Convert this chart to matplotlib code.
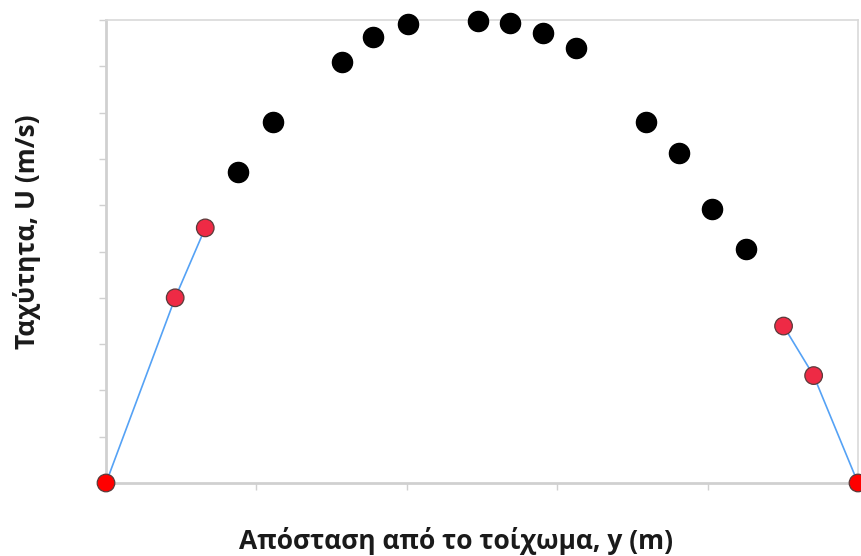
import numpy as np
import matplotlib.pyplot as plt

# wall-region points (red, joined by lines)
y_left = [0.0, 0.092, 0.132]
u_left = [0.0, 0.400, 0.551]
y_right = [0.901, 0.941, 1.0]
u_right = [0.339, 0.232, 0.0]

# core flow points (black)
y_core = [0.175, 0.222, 0.314, 0.355, 0.401, 0.495, 0.537, 0.581, 0.625,
          0.718, 0.762, 0.806, 0.851]
u_core = [0.672, 0.780, 0.909, 0.963, 0.991, 0.998, 0.994, 0.972, 0.940,
          0.780, 0.713, 0.592, 0.505]

fig = plt.figure(figsize=(8.61, 5.56), dpi=100)
ax = fig.add_axes([106 / 861, 73 / 556, 752 / 861, 463 / 556])

line_c = "#55a2f5"
for ys, us in [(y_left, u_left), (y_right, u_right)]:
    ax.plot(ys, us, color=line_c, lw=1.2, zorder=2)
    fc = ["#ff0000" if u == 0 else "#ee2a45" for u in us]
    ax.scatter(ys, us, s=160, c=fc, edgecolors="#5a3a3a", linewidths=0.9,
               zorder=3, clip_on=False)

ax.scatter(y_core, u_core, s=210, c="black", edgecolors="black", zorder=3,
           clip_on=False)

ax.set_xlim(0, 1)
ax.set_ylim(0, 1)
ax.set_xticks(np.linspace(0, 1, 6))
ax.set_yticks(np.linspace(0, 1, 11))
ax.set_xticklabels([])
ax.set_yticklabels([])
ax.tick_params(axis="both", direction="out", length=5, width=1, color="#d0d0d0")

for side in ["left", "bottom"]:
    ax.spines[side].set_color("#d0d0d0")
    ax.spines[side].set_linewidth(2)
for side in ["top", "right"]:
    ax.spines[side].set_color("#d9d9d9")
    ax.spines[side].set_linewidth(1.2)

font = ["Open Sans", "DejaVu Sans"]
fig.text(456 / 861, 1 - 541 / 556, "Απόσταση από το τοίχωμα, y (m)",
         ha="center", va="center", fontsize=19, fontweight="bold",
         family=font, color="#1a1a1a")
fig.text(27 / 861, 1 - 232 / 556, "Ταχύτητα, U (m/s)", rotation=90,
         ha="center", va="center", fontsize=19, fontweight="bold",
         family=font, color="#1a1a1a")

fig.savefig("out.png", dpi=100)
